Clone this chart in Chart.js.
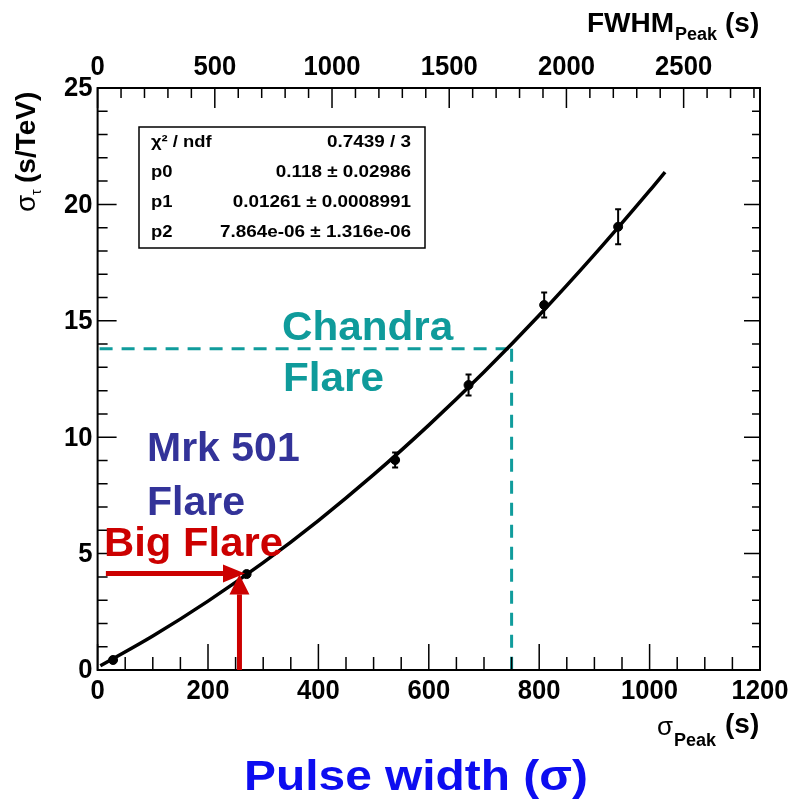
<!DOCTYPE html>
<html>
<head>
<meta charset="utf-8">
<script src="https://cdn.jsdelivr.net/npm/chart.js@4.4.0/dist/chart.umd.min.js"></script>
<style>
  html, body { margin: 0; padding: 0; background: #fff; }
</style>
</head>
<body>
<canvas id="graph" width="792" height="803"></canvas>
<script>
// fit curve
var fitX = [5, 100, 200, 300, 400, 500, 600, 700, 800, 900, 1000, 1028];
var fitY = [0.18, 1.46, 2.96, 4.61, 6.42, 8.39, 10.52, 12.80, 15.24, 17.84, 20.59, 21.39];

// measured points with their errors
var pointX = [28, 270, 539, 672, 809, 943];
var pointY = [0.43, 4.12, 9.02, 12.24, 15.68, 19.04];
var pointErr = [0.12, 0.12, 0.32, 0.45, 0.54, 0.75];

// tick labels
var bottomTicks = [0, 200, 400, 600, 800, 1000, 1200];
var topTicks = [0, 500, 1000, 1500, 2000, 2500];
var leftTicks = [0, 5, 10, 15, 20, 25];

// FWHM = 2.3548 * sigma for a gaussian pulse
var fwhmFactor = 2.3548;

var statsRows = [
  ['χ² / ndf', '0.7439 / 3'],
  ['p0', '0.118 ± 0.02986'],
  ['p1', '0.01261 ± 0.0008991'],
  ['p2', '7.864e-06 ± 1.316e-06']
];

// annotation marks in data units
var chandra = { x: 750, y: 13.8 };
var bigFlare = { x: 267, y: 4.15, fromX: 15, arrowX: 257 };

var ctx = document.getElementById('graph');
var FONT = '"Liberation Sans", Arial, sans-serif';

function pts(xs, ys) {
  return xs.map(function (x, i) { return { x: x, y: ys[i] }; });
}

function arrow(c, x1, y1, x2, y2, hl, hw) {
  var a = Math.atan2(y2 - y1, x2 - x1);
  var bx = x2 - hl * Math.cos(a), by = y2 - hl * Math.sin(a);
  c.beginPath();
  c.moveTo(x1, y1);
  c.lineTo(bx, by);
  c.stroke();
  c.beginPath();
  c.moveTo(x2, y2);
  c.lineTo(bx + hw * Math.sin(a), by - hw * Math.cos(a));
  c.lineTo(bx - hw * Math.sin(a), by + hw * Math.cos(a));
  c.closePath();
  c.fill();
}

function stretched(c, text, x, y, sx, align) {
  var w = c.measureText(text).width * sx;
  var x0 = align === 'center' ? x - w / 2 : (align === 'right' ? x - w : x);
  c.save();
  c.translate(x0, y);
  c.scale(sx, 1);
  c.textAlign = 'left';
  c.fillText(text, 0, 0);
  c.restore();
}

var rootFrame = {
  id: 'rootFrame',
  beforeDatasetsDraw: function (chart) {
    var c = chart.ctx, a = chart.chartArea;
    var xs = chart.scales.x, ys = chart.scales.y;
    var cx = xs.getPixelForValue(chandra.x), cy = ys.getPixelForValue(chandra.y);
    c.save();
    c.strokeStyle = '#109c9c';
    c.lineWidth = 3;
    c.setLineDash([13, 9]);
    c.beginPath();
    c.moveTo(a.left + 2, cy);
    c.lineTo(cx, cy);
    c.stroke();
    c.beginPath();
    c.moveTo(cx, cy);
    c.lineTo(cx, a.bottom);
    c.stroke();
    c.restore();
  },
  afterDraw: function (chart) {
    var c = chart.ctx, a = chart.chartArea;
    var xs = chart.scales.x, ys = chart.scales.y, x2 = chart.scales.x2;
    var v;
    c.save();
    // error bars
    c.strokeStyle = '#000';
    c.lineWidth = 2;
    pointX.forEach(function (x, i) {
      var px = xs.getPixelForValue(x);
      var top = ys.getPixelForValue(pointY[i] + pointErr[i]);
      var bot = ys.getPixelForValue(pointY[i] - pointErr[i]);
      c.beginPath();
      c.moveTo(px, top); c.lineTo(px, bot);
      c.moveTo(px - 3, top); c.lineTo(px + 3, top);
      c.moveTo(px - 3, bot); c.lineTo(px + 3, bot);
      c.stroke();
    });

    // frame and ROOT style inner ticks
    c.lineWidth = 2;
    c.strokeRect(a.left, a.top, a.right - a.left, a.bottom - a.top);
    c.lineWidth = 1.5;
    c.beginPath();
    for (v = 0; v <= 1200; v += 50) {
      var px = xs.getPixelForValue(v);
      var len = v % 200 === 0 ? 26 : 13;
      c.moveTo(px, a.bottom); c.lineTo(px, a.bottom - len);
    }
    for (v = 0; v <= 2800; v += 100) {
      var qx = x2.getPixelForValue(v);
      var l2 = v % 500 === 0 ? 20 : 10;
      c.moveTo(qx, a.top); c.lineTo(qx, a.top + l2);
    }
    for (v = 0; v <= 25; v += 1) {
      var py = ys.getPixelForValue(v);
      var l3 = v % 5 === 0 ? 19 : 10;
      c.moveTo(a.left, py); c.lineTo(a.left + l3, py);
      c.moveTo(a.right, py); c.lineTo(a.right - (v % 5 === 0 ? 16 : 8), py);
    }
    c.stroke();

    // tick labels from the scales
    c.fillStyle = '#000';
    c.font = 'bold 27px ' + FONT;
    c.textAlign = 'center';
    c.textBaseline = 'top';
    xs.ticks.forEach(function (t) { stretched(c, String(t.value), xs.getPixelForValue(t.value), 678, 0.95, 'center'); });
    c.textBaseline = 'alphabetic';
    x2.ticks.forEach(function (t) { stretched(c, String(t.value), x2.getPixelForValue(t.value), 75, 0.95, 'center'); });
    c.textBaseline = 'middle';
    ys.ticks.forEach(function (t) { stretched(c, String(t.value), a.left - 5, ys.getPixelForValue(t.value) + 1, 0.95, 'right'); });

    // stats box
    var bx = 139, by = 127, bw = 286, bh = 121;
    c.fillStyle = '#fff';
    c.fillRect(bx, by, bw, bh);
    c.lineWidth = 1.5;
    c.strokeStyle = '#000';
    c.strokeRect(bx, by, bw, bh);
    c.fillStyle = '#000';
    c.font = 'bold 16px ' + FONT;
    c.textBaseline = 'middle';
    statsRows.forEach(function (r, i) {
      var yy = 143 + i * 30;
      stretched(c, r[0], 151, yy, 1.15, 'left');
      stretched(c, r[1], 411, yy, 1.18, 'right');
    });

    // arrows for the big flare
    c.strokeStyle = '#cc0000';
    c.fillStyle = '#cc0000';
    c.lineWidth = 5;
    var fy = ys.getPixelForValue(bigFlare.y);
    arrow(c, xs.getPixelForValue(bigFlare.fromX), fy, xs.getPixelForValue(bigFlare.x), fy, 22, 9);
    var vx = xs.getPixelForValue(bigFlare.arrowX);
    arrow(c, vx, a.bottom, vx, fy + 1, 20, 10);

    // labels
    c.textAlign = 'left';
    c.textBaseline = 'alphabetic';
    c.font = 'bold 41px ' + FONT;
    c.fillStyle = '#0f9b9b';
    stretched(c, 'Chandra', 282, 340, 1.03, 'left');
    stretched(c, 'Flare', 283, 391, 1.03, 'left');
    c.fillStyle = '#333399';
    stretched(c, 'Mrk 501', 147, 461, 1.0, 'left');
    stretched(c, 'Flare', 147, 515, 1.0, 'left');
    c.fillStyle = '#cc0000';
    stretched(c, 'Big Flare', 104, 556, 1.02, 'left');
    c.fillStyle = '#0d0df0';
    c.font = 'bold 42px ' + FONT;
    stretched(c, 'Pulse width (σ)', 416, 790, 1.14, 'center');

    // axis titles
    c.fillStyle = '#000';
    c.font = '26px ' + FONT;
    c.fillText('σ', 657, 735);
    c.font = 'bold 18px ' + FONT;
    c.fillText('Peak', 674, 746);
    c.font = 'bold 28px ' + FONT;
    c.fillText('(s)', 725, 733);

    c.font = 'bold 28px ' + FONT;
    c.fillText('FWHM', 587, 32);
    c.font = 'bold 18px ' + FONT;
    c.fillText('Peak', 675, 40);
    c.font = 'bold 28px ' + FONT;
    c.fillText('(s)', 725, 32);

    c.translate(35, 212);
    c.rotate(-Math.PI / 2);
    c.font = '28px ' + FONT;
    c.fillText('σ', 0, 0);
    c.font = '14px ' + FONT;
    c.fillText('τ', 17, 6);
    c.font = 'bold 28px ' + FONT;
    c.fillText('(s/TeV)', 29, 0);
    c.restore();
  }
};

function fixedTicks(list) {
  return function (s) { s.ticks = list.map(function (v) { return { value: v }; }); };
}

var config = {
  type: 'scatter',
  data: {
    datasets: [{
      label: 'fit',
      data: pts(fitX, fitY),
      showLine: true,
      borderColor: '#000',
      borderWidth: 3.5,
      pointRadius: 0,
      cubicInterpolationMode: 'monotone'
    }, {
      label: 'points',
      data: pts(pointX, pointY),
      backgroundColor: '#000',
      borderColor: '#000',
      pointRadius: 4.5
    }]
  },
  plugins: [rootFrame],
  options: {
    responsive: false,
    animation: false,
    layout: { padding: { right: 32 } },
    plugins: { legend: { display: false }, tooltip: { enabled: false } },
    scales: {
      x: {
        type: 'linear', position: 'bottom', min: 0, max: 1200,
        grid: { display: false }, border: { display: false },
        ticks: { display: false },
        afterBuildTicks: fixedTicks(bottomTicks),
        afterFit: function (s) { s.height = 133; }
      },
      x2: {
        type: 'linear', position: 'top', min: 0, max: 1200 * fwhmFactor,
        grid: { display: false }, border: { display: false },
        ticks: { display: false },
        afterBuildTicks: fixedTicks(topTicks),
        afterFit: function (s) { s.height = 88; }
      },
      y: {
        type: 'linear', min: 0, max: 25,
        grid: { display: false }, border: { display: false },
        ticks: { display: false },
        afterBuildTicks: fixedTicks(leftTicks),
        afterFit: function (s) { s.width = 97.6; }
      }
    }
  }
};

var myChart = new Chart(ctx, config);
</script>
</body>
</html>
